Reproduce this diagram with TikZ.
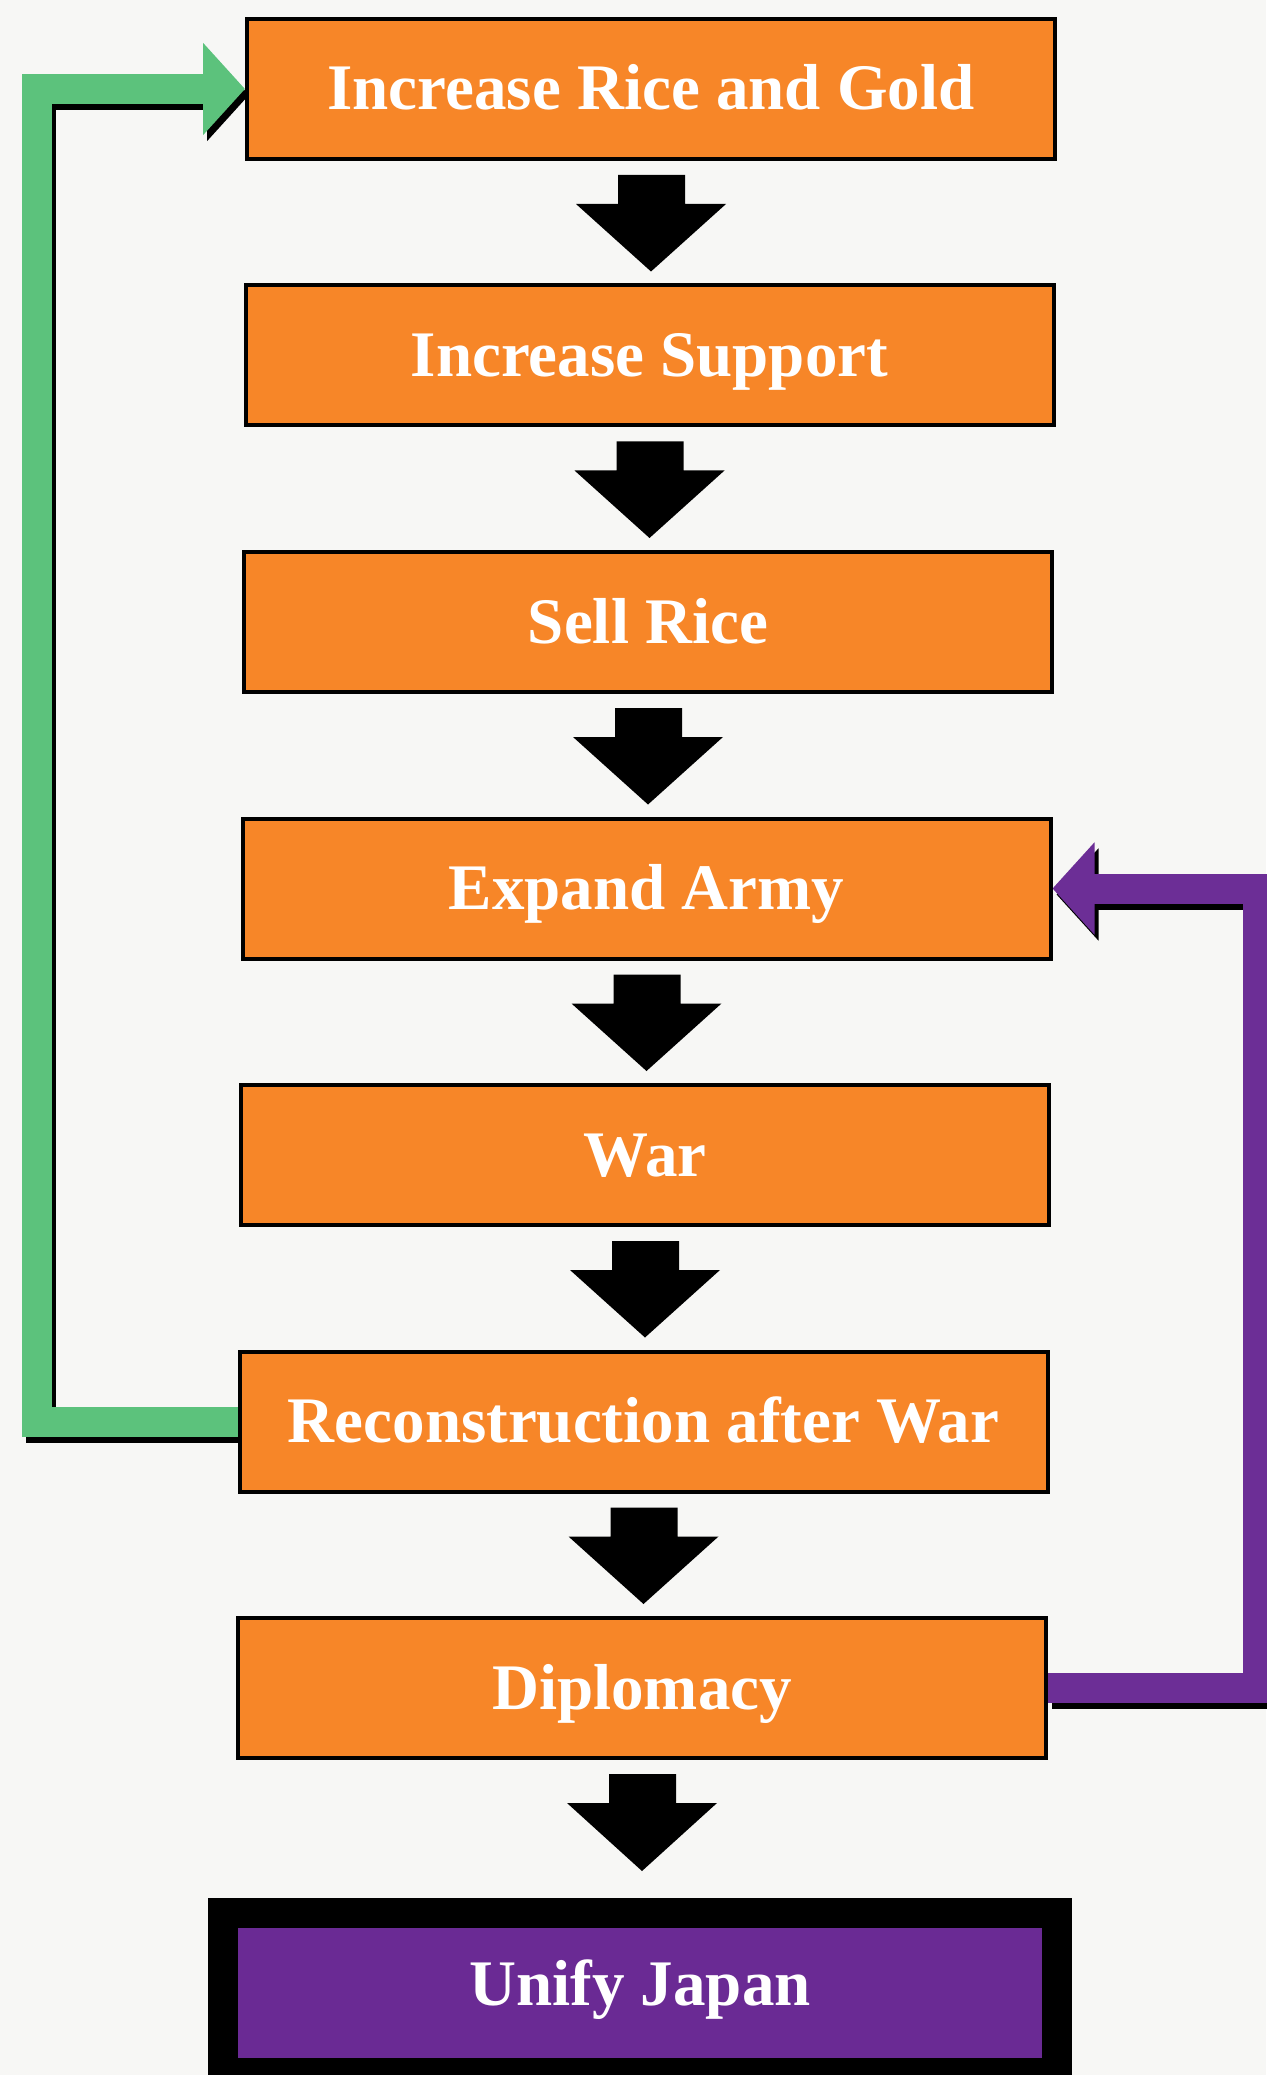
\documentclass[tikz,border=0pt]{standalone}
\usepackage{fontspec}
\setmainfont{Liberation Serif}
\usetikzlibrary{calc,arrows.meta,backgrounds}
\definecolor{boxorange}{RGB}{247,134,40}
\definecolor{goalpurple}{RGB}{106,42,148}
\definecolor{loopgreen}{RGB}{92,194,124}
\definecolor{loopviolet}{RGB}{108,46,150}
\definecolor{paper}{RGB}{247,247,245}
% #1 upper box, #2 lower box, #3 gap (px) between the tip and the lower box
\newcommand\blockarrow[3]{%
  \fill[black] ($(#1.south)+(-33,14)$) -- ($(#1.south)+(34,14)$) -- ($(#1.south)+(34,43)$)
    -- ($(#1.south)+(75,43)$) -- ($(#1.south |- #2.north)+(0,-#3)$) -- ($(#1.south)+(-75,43)$)
    -- ($(#1.south)+(-33,43)$) -- cycle;}
\begin{document}
\begin{tikzpicture}[x=0.5pt,y=-0.5pt,
  stepbox/.style={draw=black, line width=2pt, fill=boxorange, minimum width=404pt,
    minimum height=70pt, inner sep=0pt, text=white,
    font=\fontsize{32.5}{38}\selectfont\bfseries, text height=21pt, text depth=0pt},
  goalbox/.style={draw=black, line width=15pt, fill=goalpurple, minimum width=417pt,
    minimum height=80pt, inner sep=0pt, text=white,
    font=\fontsize{32.5}{38}\selectfont\bfseries, text height=21pt, text depth=9pt},
  loopline/.style={line width=15pt, line join=miter, draw=#1,
    -{Triangle[length=21pt,width=45pt,fill=#1]}},
  loopshadow/.style={line width=15pt, line join=miter, draw=black,
    -{Triangle[length=21pt,width=45pt,fill=black]},
    transform canvas={xshift=2pt,yshift=-3pt}}]
\useasboundingbox (0,0) rectangle (1266,2075);

\node[stepbox] (b1) at (651,89)     {Increase Rice and Gold};
\node[stepbox] (b2) at (649.5,355.5) {Increase Support};
\node[stepbox] (b3) at (648,622)    {Sell Rice};
\node[stepbox] (b4) at (646.5,888.5) {Expand Army};
\node[stepbox] (b5) at (645,1155)   {War};
\node[stepbox] (b6) at (643.5,1421.5) {Reconstruction after War};
\node[stepbox] (b7) at (642,1688)   {Diplomacy};
\node[goalbox] (g)  at (640,1993)   {Unify Japan};

\blockarrow{b1}{b2}{12}
\blockarrow{b2}{b3}{12}
\blockarrow{b3}{b4}{12}
\blockarrow{b4}{b5}{12}
\blockarrow{b5}{b6}{12}
\blockarrow{b6}{b7}{12}
\blockarrow{b7}{g}{27}

\coordinate (gx) at (37,0);
\coordinate (px) at (1258,0);

\begin{scope}[on background layer]
  \fill[paper] (0,0) rectangle (1266,2075);
  \draw[loopshadow] (b6.west) -| (gx |- b1.west) -- (b1.west);
  \draw[loopline=loopgreen] (b6.west) -| (gx |- b1.west) -- (b1.west);
  \draw[loopshadow] (b7.east) -| (px |- b4.east) -- (b4.east);
  \draw[loopline=loopviolet] (b7.east) -| (px |- b4.east) -- (b4.east);
\end{scope}
\end{tikzpicture}
\end{document}
